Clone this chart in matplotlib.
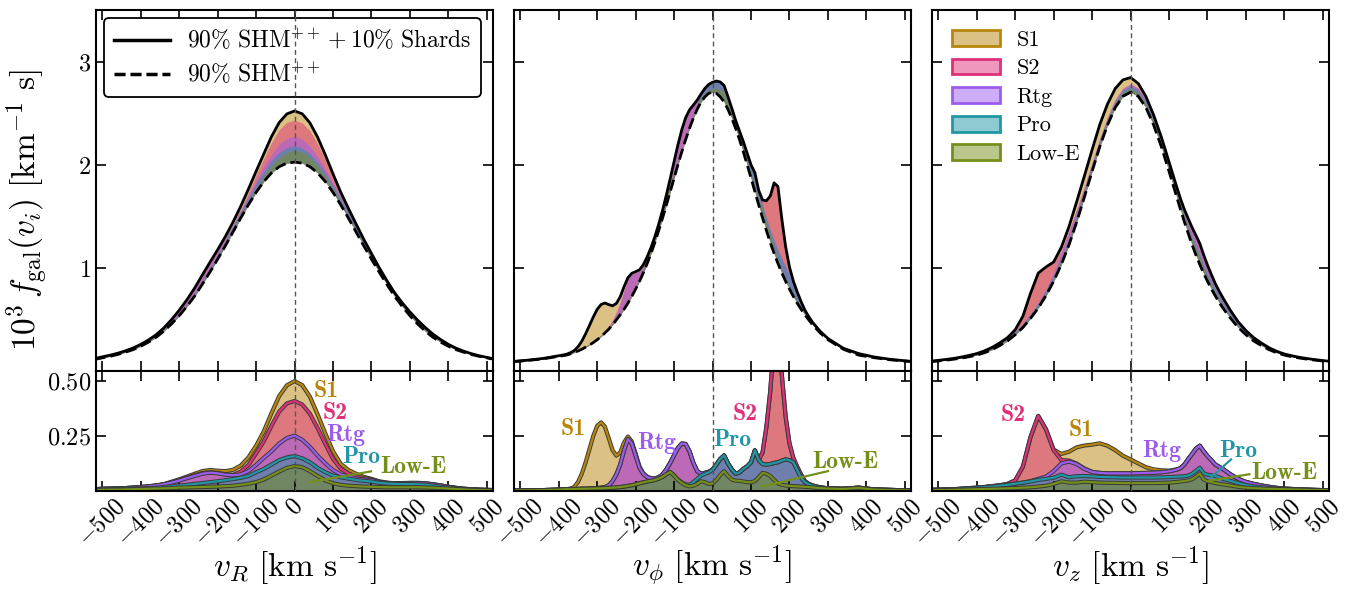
import numpy as np
import matplotlib
matplotlib.use("Agg")
import matplotlib.pyplot as plt
import matplotlib.patheffects as pe
from matplotlib.patches import Patch
from matplotlib.lines import Line2D
from matplotlib.colors import to_rgba

plt.rcParams.update({
    "font.family": "serif",
    "font.serif": ["cmr10"],
    "mathtext.fontset": "cm",
    "axes.formatter.use_mathtext": True,
})

# ---------------- data ----------------
names = ["Low-E", "Pro", "Rtg", "S2", "S1"]          # stacking order, bottom -> top
colors = ["#75901A", "#2196A6", "#9D5CF0", "#E0307A", "#B8860B"]

# v_R panel
vR = np.arange(-520, 521, 20)
vR_shm = [0.110, 0.125, 0.140, 0.158, 0.180, 0.205, 0.238, 0.278, 0.325, 0.385, 0.455, 0.535, 0.625,
          0.725, 0.840, 0.960, 1.085, 1.215, 1.350, 1.485, 1.615, 1.735, 1.840, 1.925, 1.985, 2.020,
          2.030,
          2.020, 1.985, 1.925, 1.840, 1.735, 1.615, 1.485, 1.350, 1.215, 1.085, 0.960, 0.840, 0.725,
          0.625, 0.535, 0.455, 0.385, 0.325, 0.278, 0.238, 0.205, 0.180, 0.158, 0.140, 0.125, 0.110]
vR_lowE = [0.004, 0.005, 0.006, 0.006, 0.007, 0.008, 0.009, 0.010, 0.011, 0.012, 0.013, 0.015, 0.016,
           0.017, 0.018, 0.019, 0.020, 0.022, 0.024, 0.028, 0.033, 0.040, 0.052, 0.070, 0.088, 0.105,
           0.113,
           0.108, 0.090, 0.068, 0.048, 0.035, 0.028, 0.024, 0.022, 0.020, 0.019, 0.018, 0.017, 0.017,
           0.017, 0.017, 0.017, 0.016, 0.015, 0.013, 0.011, 0.009, 0.007, 0.005, 0.004, 0.003, 0.003]
vR_pro = [0.002, 0.002, 0.002, 0.003, 0.003, 0.003, 0.003, 0.003, 0.004, 0.006, 0.008, 0.009, 0.012,
          0.015, 0.018, 0.021, 0.024, 0.027, 0.030, 0.032, 0.035, 0.045, 0.048, 0.050, 0.052, 0.047,
          0.045,
          0.040, 0.040, 0.037, 0.037, 0.035, 0.034, 0.032, 0.028, 0.026, 0.024, 0.019, 0.017, 0.015,
          0.014, 0.014, 0.013, 0.012, 0.009, 0.006, 0.004, 0.003, 0.002, 0.002, 0.001, 0.001, 0.000]
vR_rtg = [0.002, 0.003, 0.003, 0.003, 0.003, 0.004, 0.006, 0.008, 0.010, 0.012, 0.017, 0.023, 0.030,
          0.036, 0.042, 0.043, 0.036, 0.025, 0.017, 0.015, 0.022, 0.033, 0.050, 0.060, 0.075, 0.088,
          0.093,
          0.084, 0.070, 0.055, 0.040, 0.025, 0.013, 0.009, 0.007, 0.006, 0.006, 0.003, 0.002, 0.002,
          0.004, 0.005, 0.006, 0.006, 0.006, 0.006, 0.004, 0.002, 0.001, 0.001, 0.001, 0.001, 0.001]
vR_s2 = [0, 0, 0, 0, 0, 0, 0, 0, 0, 0, 0.001, 0.002, 0.002,
         0.003, 0.003, 0.002, 0.002, 0.002, 0.002, 0.013, 0.028, 0.052, 0.075, 0.115, 0.145, 0.157,
         0.157,
         0.160, 0.150, 0.125, 0.088, 0.050, 0.026, 0.014, 0.009, 0.006, 0.003, 0.002, 0.001, 0,
         0, 0, 0, 0, 0, 0, 0, 0, 0, 0, 0, 0, 0]
vR_s1 = [0, 0, 0, 0, 0, 0.001, 0, 0, 0, 0.001, 0.003, 0.004, 0.005,
         0.007, 0.009, 0.010, 0.010, 0.014, 0.023, 0.027, 0.034, 0.035, 0.045, 0.058, 0.070, 0.082,
         0.090,
         0.088, 0.077, 0.062, 0.048, 0.035, 0.022, 0.016, 0.012, 0.006, 0.003, 0.002, 0.001, 0.001,
         0.001, 0.001, 0.001, 0.001, 0.001, 0, 0, 0, 0, 0, 0, 0, 0]

# v_phi panel
vphi = np.concatenate([[-520, -480, -440, -400], np.arange(-380, 261, 10),
                       [280, 300, 340, 380, 420, 460, 500, 520]])
vphi_shm = [0.088, 0.100, 0.116, 0.140,
            0.152, 0.164, 0.177, 0.192, 0.209, 0.230, 0.251, 0.274, 0.302, 0.333, 0.367, 0.404, 0.447,
            0.495, 0.545, 0.599, 0.658, 0.723, 0.794, 0.870, 0.952, 1.043, 1.141, 1.248, 1.364, 1.486,
            1.613, 1.743, 1.874, 2.004, 2.130, 2.249, 2.358, 2.457, 2.543, 2.615, 2.665, 2.699, 2.710,
            2.699, 2.665, 2.615, 2.543, 2.457, 2.358, 2.249, 2.130, 2.004, 1.874, 1.743, 1.613, 1.486,
            1.364, 1.248, 1.141, 1.043, 0.952, 0.870, 0.794, 0.723, 0.658, 0.599, 0.545, 0.495, 0.447,
            0.367, 0.302, 0.209, 0.152, 0.127, 0.107, 0.094, 0.088]
vphi_lowE = [0.002, 0.003, 0.004, 0.006,
             0.008, 0.008, 0.009, 0.009, 0.010, 0.010, 0.011, 0.011, 0.012, 0.012, 0.013, 0.014, 0.015,
             0.016, 0.018, 0.020, 0.023, 0.026, 0.030, 0.035, 0.039, 0.043, 0.046, 0.050, 0.056, 0.064,
             0.076, 0.086, 0.070, 0.050, 0.036, 0.026, 0.021, 0.024, 0.032, 0.044, 0.040, 0.032, 0.034,
             0.050, 0.072, 0.090, 0.068, 0.052, 0.047, 0.046, 0.043, 0.040, 0.039, 0.045, 0.062, 0.082,
             0.078, 0.068, 0.050, 0.034, 0.028, 0.025, 0.023, 0.022, 0.021, 0.020, 0.019, 0.018, 0.016,
             0.013, 0.011, 0.009, 0.014, 0.006, 0.004, 0.003, 0.002]
vphi_pro = [0, 0, 0, 0,
            0, 0, 0, 0, 0, 0, 0, 0, 0, 0, 0, 0, 0,
            0, 0, 0, 0, 0, 0, 0, 0, 0, 0, 0, 0, 0,
            0, 0, 0.001, 0.002, 0.003, 0.004, 0.007, 0.016, 0.023, 0.026, 0.038, 0.052, 0.062,
            0.070, 0.073, 0.071, 0.057, 0.046, 0.031, 0.038, 0.057, 0.072, 0.091, 0.139, 0.078, 0.040,
            0.042, 0.054, 0.077, 0.096, 0.110, 0.118, 0.117, 0.108, 0.074, 0.040, 0.021, 0.012, 0.008,
            0.003, 0.001, 0.001, 0.001, 0.001, 0.001, 0, 0]
vphi_rtg = [0, 0, 0, 0,
            0, 0, 0, 0, 0, 0, 0, 0.001, 0.001, 0.003, 0.005, 0.011, 0.030,
            0.059, 0.102, 0.165, 0.212, 0.189, 0.130, 0.070, 0.038, 0.020, 0.011, 0.007, 0.006, 0.011,
            0.022, 0.042, 0.091, 0.143, 0.176, 0.183, 0.152, 0.088, 0.035, 0.008, 0.004, 0.003, 0.001,
            0, 0, 0, 0, 0, 0, 0, 0, 0, 0, 0, 0, 0,
            0, 0, 0, 0, 0, 0, 0, 0, 0, 0, 0, 0, 0,
            0, 0, 0, 0, 0, 0, 0, 0]
vphi_s2 = [0, 0, 0, 0,
           0, 0, 0, 0, 0, 0, 0, 0, 0, 0, 0, 0, 0,
           0, 0, 0, 0, 0, 0, 0, 0, 0, 0, 0, 0, 0,
           0, 0, 0, 0, 0, 0, 0, 0, 0, 0, 0, 0, 0,
           0, 0, 0, 0, 0, 0, 0, 0, 0, 0, 0, 0.002, 0.053,
           0.170, 0.330, 0.560, 0.620, 0.390, 0.193, 0.075, 0.020, 0.015, 0.015, 0.005, 0.002, 0.001,
           0, 0, 0, 0, 0, 0, 0, 0]
vphi_s1 = [0, 0, 0, 0,
           0, 0.003, 0.009, 0.031, 0.068, 0.120, 0.179, 0.238, 0.282, 0.296, 0.274, 0.215, 0.140,
           0.085, 0.055, 0.035, 0.012, 0.010, 0.010, 0.007, 0.003, 0.002, 0.001, 0, 0, 0,
           0, 0, 0, 0, 0, 0, 0, 0, 0, 0, 0, 0, 0,
           0, 0, 0, 0, 0, 0, 0, 0, 0, 0, 0, 0, 0,
           0, 0, 0, 0, 0, 0, 0, 0, 0, 0, 0, 0, 0,
           0, 0, 0, 0, 0, 0, 0, 0]

# v_z panel
vz = np.concatenate([np.arange(-520, 121, 20), np.arange(130, 231, 10), np.arange(240, 521, 20)])
vz_shm = [0.088, 0.095, 0.103, 0.112, 0.123, 0.136, 0.152, 0.175, 0.205, 0.245, 0.290, 0.350, 0.420,
          0.510, 0.610, 0.730, 0.870, 1.033, 1.225, 1.448, 1.690, 1.940, 2.180, 2.390, 2.560, 2.670,
          2.710, 2.670, 2.560, 2.390, 2.180, 1.940, 1.690,
          1.568, 1.448, 1.335, 1.225, 1.125, 1.033, 0.948, 0.870, 0.797, 0.730, 0.667,
          0.610, 0.510, 0.420, 0.350, 0.290, 0.245, 0.205, 0.175, 0.152, 0.136, 0.123, 0.112, 0.103,
          0.095, 0.088]
vz_lowE = [0.003, 0.004, 0.004, 0.005, 0.006, 0.007, 0.008, 0.009, 0.010, 0.011, 0.012, 0.013, 0.015,
           0.017, 0.020, 0.024, 0.032, 0.044, 0.038, 0.038, 0.042, 0.040, 0.038, 0.037, 0.037, 0.036,
           0.036, 0.036, 0.036, 0.036, 0.037, 0.038, 0.041,
           0.043, 0.045, 0.048, 0.053, 0.065, 0.079, 0.052, 0.044, 0.040, 0.036, 0.033,
           0.030, 0.025, 0.019, 0.015, 0.013, 0.011, 0.010, 0.009, 0.008, 0.007, 0.006, 0.005, 0.004,
           0.004, 0.003]
vz_pro = [0.002, 0.002, 0.003, 0.003, 0.004, 0.005, 0.006, 0.008, 0.010, 0.013, 0.016, 0.020, 0.023,
          0.026, 0.030, 0.031, 0.028, 0.030, 0.024, 0.029, 0.026, 0.026, 0.026, 0.026, 0.025, 0.025,
          0.025, 0.025, 0.025, 0.025, 0.025, 0.025, 0.024,
          0.023, 0.022, 0.022, 0.025, 0.027, 0.026, 0.028, 0.030, 0.031, 0.032, 0.029,
          0.025, 0.021, 0.016, 0.012, 0.008, 0.006, 0.003, 0.001, 0, 0, 0, 0, 0,
          0, 0]
vz_rtg = [0, 0, 0, 0, 0, 0, 0, 0, 0.001, 0, 0, 0, 0,
          0.002, 0.005, 0.010, 0.030, 0.051, 0.071, 0.055, 0.032, 0.020, 0.018, 0.017, 0.018, 0.019,
          0.019, 0.020, 0.021, 0.022, 0.023, 0.026, 0.032,
          0.038, 0.053, 0.075, 0.090, 0.100, 0.100, 0.100, 0.084, 0.069, 0.052, 0.048,
          0.045, 0.029, 0.020, 0.014, 0.011, 0.008, 0.006, 0.004, 0.003, 0.002, 0.001, 0.001, 0.001,
          0, 0]
vz_s2 = [0, 0, 0, 0, 0, 0.001, 0.001, 0.001, 0.001, 0.002, 0.004, 0.015, 0.072,
         0.200, 0.285, 0.215, 0.095, 0.015, 0.005, 0.002, 0.002, 0.001, 0, 0, 0, 0,
         0, 0, 0, 0, 0, 0, 0,
         0, 0, 0, 0, 0, 0, 0, 0, 0, 0, 0,
         0, 0, 0, 0, 0, 0, 0, 0, 0, 0, 0, 0, 0,
         0, 0]
vz_s1 = [0, 0, 0, 0, 0, 0, 0, 0, 0, 0, 0, 0, 0,
         0, 0, 0, 0.003, 0.028, 0.040, 0.074, 0.104, 0.123, 0.134, 0.125, 0.105, 0.080,
         0.063, 0.044, 0.026, 0.015, 0.009, 0.003, 0.001,
         0, 0, 0, 0, 0, 0, 0, 0, 0, 0, 0,
         0, 0, 0, 0, 0, 0, 0, 0, 0, 0, 0, 0, 0,
         0, 0]

xticks = list(range(-500, 501, 100))
xlabels = [r"$%d$" % t for t in xticks]

# ---------------- figure ----------------
fig = plt.figure(figsize=(13.53, 5.89), dpi=100)
gs = fig.add_gridspec(2, 3, left=0.071, right=0.9823, top=0.983, bottom=0.1664,
                      wspace=0.053, hspace=0.0, height_ratios=[3, 1])

panels = [
    (vR, vR_shm, [vR_lowE, vR_pro, vR_rtg, vR_s2, vR_s1], r"$v_R\ [\mathrm{km\ s^{-1}}]$"),
    (vphi, vphi_shm, [vphi_lowE, vphi_pro, vphi_rtg, vphi_s2, vphi_s1], r"$v_\phi\ [\mathrm{km\ s^{-1}}]$"),
    (vz, vz_shm, [vz_lowE, vz_pro, vz_rtg, vz_s2, vz_s1], r"$v_z\ [\mathrm{km\ s^{-1}}]$"),
]

label_pos = [
    {"S1": (83, 0.455), "S2": (105, 0.355), "Rtg": (132, 0.254), "Pro": (174, 0.154),
     "Low-E": (310, 0.109)},
    {"S1": (-363, 0.279), "Rtg": (-145, 0.219), "S2": (84, 0.35), "Pro": (52, 0.232),
     "Low-E": (346, 0.132)},
    {"S2": (-306, 0.344), "S1": (-128, 0.275), "Rtg": (82, 0.18), "Pro": (280, 0.18),
     "Low-E": (400, 0.083)},
]
label_lines = [
    {"Low-E": ((199, 0.089), (39, 0.040))},
    {"Low-E": ((300, 0.090), (128, 0.020))},
    {"Pro": ((261, 0.143), (209, 0.061)), "Low-E": ((309, 0.076), (204, 0.046))},
]

col = dict(zip(names, colors))
outline = [pe.Stroke(linewidth=3.0, foreground="#3a3a3a"), pe.Normal()]

for j, (v, shm, comps, xlab) in enumerate(panels):
    axt = fig.add_subplot(gs[0, j])
    axb = fig.add_subplot(gs[1, j], sharex=axt)
    shm = np.asarray(shm)
    cum = np.cumsum(np.array(comps, dtype=float), axis=0)

    for k in reversed(range(5)):
        axt.fill_between(v, shm, shm + cum[k], color=colors[k], alpha=0.5, lw=0)
        axb.fill_between(v, 0, cum[k], color=colors[k], alpha=0.5, lw=0)
    for k in reversed(range(5)):
        axb.plot(v, cum[k], color=colors[k], lw=1.6, path_effects=outline, solid_joinstyle="round")

    axt.plot(v, shm + cum[-1], color="k", lw=2.0, zorder=5)
    axt.plot(v, shm, color="k", lw=2.0, ls=(0, (4.0, 1.8)), zorder=5)

    for ax in (axt, axb):
        ax.axvline(0, color="#555555", lw=1.0, ls=(0, (3.5, 2.5)), zorder=6)
        ax.tick_params(which="both", direction="in", top=True, right=True,
                       length=7, width=1.2, labelsize=17.5)
        for s in ax.spines.values():
            s.set_linewidth(1.5)

    axt.set_xlim(-516, 516)
    axt.set_ylim(0, 3.51)
    axb.set_ylim(0, 0.545)
    axt.set_yticks([1, 2, 3])
    axt.set_yticklabels([r"$1$", r"$2$", r"$3$"])
    axb.set_yticks([0.25, 0.5])
    axb.set_yticklabels([r"$0.25$", r"$0.50$"])
    axt.tick_params(labelbottom=False)
    axb.set_xticks(xticks)
    axb.set_xticklabels(xlabels, rotation=45, ha="center")
    axb.tick_params(axis="x", pad=3)
    if j > 0:
        axt.tick_params(labelleft=False)
        axb.tick_params(labelleft=False)
    axb.set_xlabel(xlab, fontsize=24, labelpad=-5)

    for nm, (tx, ty) in label_pos[j].items():
        axb.text(tx, ty, nm, color=col[nm], fontfamily="cmb10", fontsize=17,
                 ha="center", va="center", zorder=8)
    for nm, (p0, p1) in label_lines[j].items():
        axb.plot([p0[0], p1[0]], [p0[1], p1[1]], color=col[nm], lw=1.6, zorder=8)

    if j == 0:
        h = [Line2D([], [], color="k", lw=2.5),
             Line2D([], [], color="k", lw=2.5, ls=(0, (3.2, 1.4)))]
        lab = [r"$90\%\ \mathrm{SHM}^{++} + 10\%\ \mathrm{Shards}$", r"$90\%\ \mathrm{SHM}^{++}$"]
        leg = axt.legend(h, lab, loc="upper left", fontsize=17, frameon=True, fancybox=True,
                         framealpha=1, edgecolor="k", handlelength=2.4, borderaxespad=0.35,
                         labelspacing=0.35, handletextpad=0.7)
        leg.get_frame().set_linewidth(1.3)
    if j == 2:
        h = [Patch(facecolor=to_rgba(col[nm], 0.5), edgecolor=col[nm], lw=2)
             for nm in ["S1", "S2", "Rtg", "Pro", "Low-E"]]
        axt.legend(h, ["S1", "S2", "Rtg", "Pro", "Low-E"], loc="upper left", fontsize=16,
                   frameon=False, handlelength=2.15, handleheight=0.72, labelspacing=0.4,
                   borderaxespad=0.5, handletextpad=0.75)

fig.text(0.0207, 0.643, r"$10^3\, f_{\rm gal}(v_i)\ [\mathrm{km}^{-1}\ \mathrm{s}]$",
         rotation=90, ha="center", va="center", fontsize=24)

fig.savefig("out.png", dpi=100)
